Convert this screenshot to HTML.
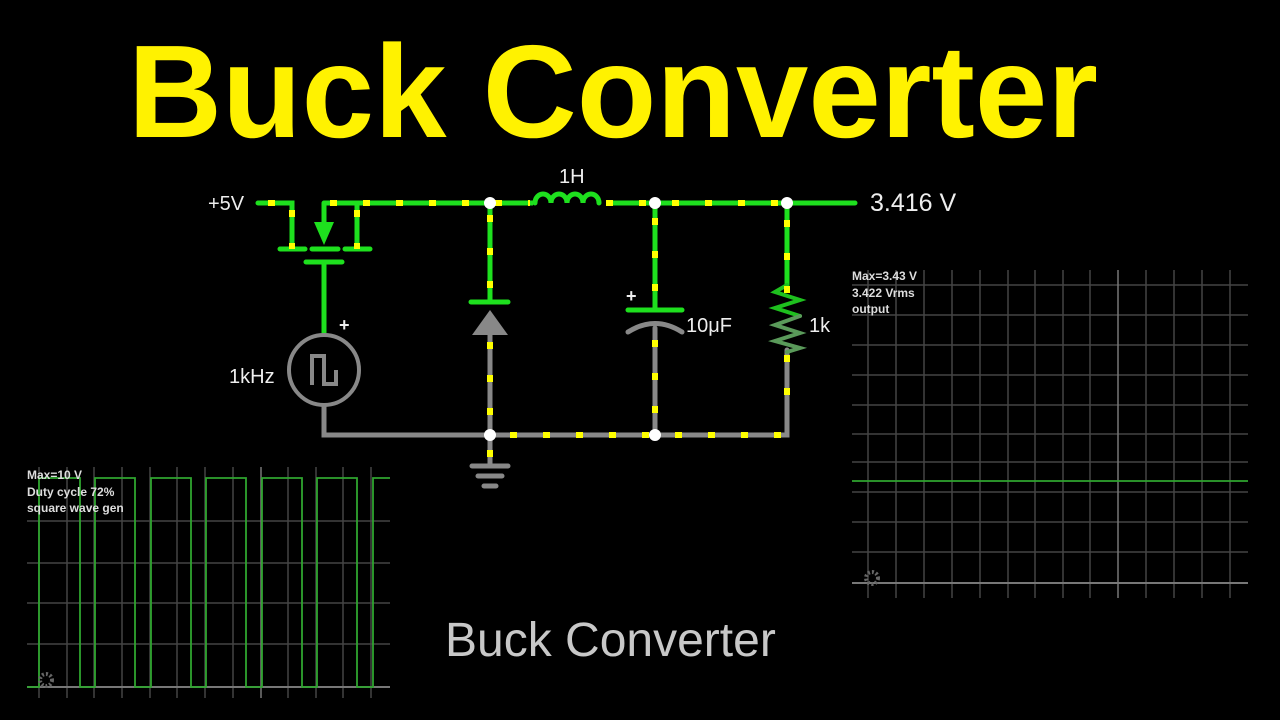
<!DOCTYPE html>
<html><head><meta charset="utf-8"><style>
html,body{margin:0;padding:0;background:#000;width:1280px;height:720px;overflow:hidden}
svg{display:block}
text{font-family:"Liberation Sans",sans-serif}
</style></head><body>
<svg width="1280" height="720" viewBox="0 0 1280 720">
<rect width="1280" height="720" fill="#000"/>
<text x="128" y="137" font-size="132" font-weight="bold" fill="#fff200" textLength="970" lengthAdjust="spacingAndGlyphs">Buck Converter</text>

<g stroke="#444" stroke-width="1.5">
<line x1="27" y1="521" x2="390" y2="521"/><line x1="27" y1="563" x2="390" y2="563"/>
<line x1="27" y1="603" x2="390" y2="603"/><line x1="27" y1="644" x2="390" y2="644"/>
<line x1="39" y1="467" x2="39" y2="698"/><line x1="67" y1="467" x2="67" y2="698"/><line x1="94" y1="467" x2="94" y2="698"/><line x1="122" y1="467" x2="122" y2="698"/><line x1="150" y1="467" x2="150" y2="698"/><line x1="177" y1="467" x2="177" y2="698"/><line x1="205" y1="467" x2="205" y2="698"/><line x1="233" y1="467" x2="233" y2="698"/><line x1="288" y1="467" x2="288" y2="698"/><line x1="316" y1="467" x2="316" y2="698"/><line x1="343" y1="467" x2="343" y2="698"/><line x1="371" y1="467" x2="371" y2="698"/>
</g>
<line x1="261" y1="467" x2="261" y2="698" stroke="#777" stroke-width="1.5"/>
<line x1="27" y1="687" x2="390" y2="687" stroke="#777" stroke-width="2"/>
<polyline fill="none" stroke="#2fa52f" stroke-width="1.8" points="27,687 39,687 39,478 80,478 80,687 95,687 95,478 135,478 135,687 151,687 151,478 191,478 191,687 206,687 206,478 246,478 246,687 262,687 262,478 302,478 302,687 317,687 317,478 357,478 357,687 373,687 373,478 390,478"/>
<g font-size="12" font-weight="bold" fill="#ddd"><text x="27" y="479">Max=10 V</text><text x="27" y="496">Duty cycle 72%</text><text x="27" y="512">square wave gen</text></g>
<circle cx="46" cy="680" r="6" fill="none" stroke="#666" stroke-width="4" stroke-dasharray="2 2"/>

<g stroke="#444" stroke-width="1.5">
<line x1="852" y1="285" x2="1248" y2="285"/><line x1="852" y1="315" x2="1248" y2="315"/><line x1="852" y1="345" x2="1248" y2="345"/><line x1="852" y1="375" x2="1248" y2="375"/><line x1="852" y1="405" x2="1248" y2="405"/><line x1="852" y1="434" x2="1248" y2="434"/><line x1="852" y1="462" x2="1248" y2="462"/><line x1="852" y1="492" x2="1248" y2="492"/><line x1="852" y1="522" x2="1248" y2="522"/><line x1="852" y1="552" x2="1248" y2="552"/>
<line x1="868" y1="270" x2="868" y2="598"/><line x1="896" y1="270" x2="896" y2="598"/><line x1="924" y1="270" x2="924" y2="598"/><line x1="952" y1="270" x2="952" y2="598"/><line x1="980" y1="270" x2="980" y2="598"/><line x1="1008" y1="270" x2="1008" y2="598"/><line x1="1035" y1="270" x2="1035" y2="598"/><line x1="1063" y1="270" x2="1063" y2="598"/><line x1="1090" y1="270" x2="1090" y2="598"/><line x1="1146" y1="270" x2="1146" y2="598"/><line x1="1174" y1="270" x2="1174" y2="598"/><line x1="1202" y1="270" x2="1202" y2="598"/><line x1="1230" y1="270" x2="1230" y2="598"/>
</g>
<line x1="1118" y1="270" x2="1118" y2="598" stroke="#777" stroke-width="1.5"/>
<line x1="852" y1="583" x2="1248" y2="583" stroke="#777" stroke-width="2"/>
<line x1="852" y1="481" x2="1248" y2="481" stroke="#2fa52f" stroke-width="1.8"/>
<g font-size="12" font-weight="bold" fill="#ddd"><text x="852" y="280">Max=3.43 V</text><text x="852" y="297">3.422 Vrms</text><text x="852" y="313">output</text></g>
<circle cx="872" cy="578" r="6" fill="none" stroke="#666" stroke-width="4" stroke-dasharray="2 2"/>

<g fill="none" stroke-width="5" stroke-linecap="round">
<g stroke="#1ee01e">
<path d="M258 203 H292 V249 M324 203 H855 M357 203 V249 M324 203 V235"/>
<path d="M280 249 H305 M312 249 H338 M345 249 H370 M306 262 H342 M324 262 V333"/>
<path d="M490 203 V302 M471 302 H508 M655 203 V310 M628 310 H682 M787 203 V285"/>
</g>
<polygon points="314,222 334,222 324,245" fill="#1ee01e" stroke="none"/>
<rect x="533" y="198" width="74" height="8" fill="#000" stroke="none"/>
<path d="M535 203 a8 9 0 0 1 16 0 a8 9 0 0 1 16 0 a8 9 0 0 1 16 0 a8 9 0 0 1 16 0" stroke="#1ee01e"/>
<g stroke="#888">
<path d="M324 406 V435 H787 V350 M490 335 V465 M655 328 V435"/>
<path d="M472 466 H508 M478 476 H502 M484 486 H496"/>
<path d="M628 332 Q655 315 682 332"/>
</g>
<circle cx="324" cy="370" r="35" stroke="#888" stroke-width="4"/>
<path d="M312 385 V356 H324 V384 H336 V370" stroke="#888" stroke-width="4" stroke-linecap="butt"/>
<polygon points="472,335 508,335 490,310" fill="#888" stroke="none"/>
<path d="M787 285 L775 292 L800 300 L775 308 L800 316" stroke="#1ec01e" stroke-width="4"/>
<path d="M800 316 L775 325 L800 333 L775 341 L800 348 L787 352" stroke="#5a9a5a" stroke-width="4"/>
</g>
<g fill="none" stroke="#ffff00" stroke-width="6" stroke-dasharray="7 26">
<path d="M268 203 H292"/><path d="M330 203 H530"/><path d="M606 203 H787"/>
<path d="M292 210 V249"/><path d="M357 210 V249"/>
<path d="M490 215 V302"/><path d="M490 342 V440"/>
<path d="M655 218 V310"/><path d="M655 340 V420"/>
<path d="M787 220 V300"/><path d="M787 355 V420"/>
<path d="M510 435 H787"/><path d="M490 450 V462"/>
</g>
<g fill="#fff"><circle cx="490" cy="203" r="6"/><circle cx="655" cy="203" r="6"/><circle cx="787" cy="203" r="6"/><circle cx="490" cy="435" r="6"/><circle cx="655" cy="435" r="6"/></g>
<g fill="#eee" font-size="20">
<text x="208" y="210">+5V</text>
<text x="870" y="211" font-size="25">3.416 V</text>
<text x="559" y="183">1H</text>
<text x="686" y="332">10μF</text>
<text x="809" y="332">1k</text>
<text x="229" y="383">1kHz</text>
<text x="339" y="331" font-size="18" font-weight="bold">+</text>
<text x="626" y="302" font-size="18" font-weight="bold">+</text>
</g>
<text x="445" y="656" font-size="48" fill="#c8c8c8">Buck Converter</text>
</svg>
</body></html>
